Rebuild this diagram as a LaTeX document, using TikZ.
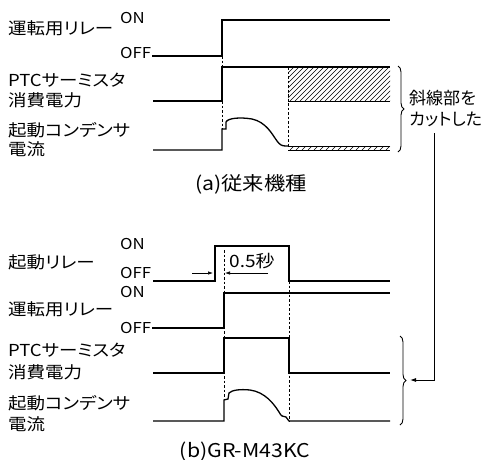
\documentclass[tikz,border=0pt]{standalone}
\usepackage{fontspec}
\setmainfont[RawFeature=+palt, FakeStretch=1.12]{Noto Sans CJK JP}
\newfontfamily\cutfont[RawFeature=+palt]{Noto Sans CJK JP}
\usetikzlibrary{arrows.meta,decorations.pathreplacing}
\begin{document}
\begin{tikzpicture}[x=1pt,y=-1pt,
 sig/.style={line width=1.3pt},
 dsh/.style={line width=0.8pt, dash pattern=on 2.5pt off 2pt},
 lab/.style={anchor=west, inner sep=0pt, font=\fontsize{16.5}{18}\selectfont},
 cutlab/.style={anchor=west, inner sep=0pt, font=\cutfont\fontsize{17}{19}\selectfont},
 lvl/.style={anchor=west, inner sep=0pt, font=\fontsize{15}{17}\selectfont},
 dimlab/.style={anchor=west, inner sep=0pt, font=\fontsize{17}{19}\selectfont},
 capt/.style={inner sep=0pt, font=\fontsize{19}{22}\selectfont},
 hatch/.style={line width=0.6pt},
 dim/.style={line width=0.7pt, -{Latex[length=5pt,width=3.5pt]}},
 brc/.style={decorate, decoration={brace, amplitude=6pt}, line width=0.9pt}]
\useasboundingbox (0,0) rectangle (483,459);

% ---------- (a) ----------
\node[lab] (a1) at (8,28) {運転用リレー};
\node[lvl] (a1on) at (120,18) {ON};
\node[lvl] (a1off) at (120,53) {OFF};
\node[lab] (a2a) at (8,80) {PTCサーミスタ};
\node[lab] (a2b) at (8,100) {消費電力};
\node[lab] (a3a) at (8,130) {起動コンデンサ};
\node[lab] (a3b) at (8,149) {電流};
\node[capt] (capa) at (251,184) {(a)従来機種};

\begin{scope}
\clip (288,67) rectangle (390,101);
\foreach \x in {250,255,...,390} \draw[hatch] (\x,101) -- (\x+34,67);
\end{scope}
\begin{scope}
\clip (288,146) rectangle (390,150);
\foreach \x in {284,290,...,390} \draw[hatch] (\x,150) -- (\x+4,146);
\end{scope}
\draw[hatch] (288,146) -- (390,146);

\draw[dsh] (222,56) -- (222,67);
\draw[dsh] (222,101) -- (222,129);
\draw[dsh] (288,67) -- (288,146);

\draw[sig] (152,56) -- (222,56) -- (222,20) -- (390,20);
\draw[sig] (153,101) -- (222,101) -- (222,67) -- (390,67);
\draw[line width=1pt] (288,101) -- (390,101);
\draw[sig] (153,150) -- (222,150) -- (222,129) -- (226,129) -- (226,122)
  .. controls (228,118) and (240,117) .. (252,119)
  .. controls (266,122) and (272,134) .. (277,141)
  .. controls (280,145) and (282,146) .. (286,146) -- (288,146);
\draw[line width=1pt] (288,150) -- (390,150);

\draw[brc] (398,66) -- (398,152);
\node[cutlab] (cut1) at (409,98) {斜線部を};
\node[cutlab] (cut2) at (409,119) {カットした};

% ---------- (b) ----------
\node[lab] (b1) at (8,262) {起動リレー};
\node[lvl] (b1on) at (120,244) {ON};
\node[lvl] (b1off) at (120,273) {OFF};
\node[lvl] (b2on) at (120,292) {ON};
\node[lab] (b2) at (8,309) {運転用リレー};
\node[lvl] (b2off) at (120,328) {OFF};
\node[lab] (b3a) at (8,350) {PTCサーミスタ};
\node[lab] (b3b) at (8,372) {消費電力};
\node[lab] (b4a) at (8,403) {起動コンデンサ};
\node[lab] (b4b) at (8,424) {電流};
\node[capt] (capb) at (245,452) {(b)GR-M43KC};

\draw[dsh] (224,250) -- (224,400);
\draw[dsh] (289,281) -- (289,421);

\draw[sig] (153,281) -- (215,281) -- (215,246) -- (289,246) -- (289,281) -- (390,281);
\draw[sig] (152,328) -- (224,328) -- (224,293) -- (390,293);
\draw[sig] (153,373) -- (224,373) -- (224,338) -- (289,338) -- (289,373) -- (390,373);
\draw[sig] (153,421) -- (224,421) -- (224,400) -- (228,399) -- (229,393)
  .. controls (232,390) and (240,389) .. (250,390)
  .. controls (265,392) and (274,404) .. (279,412)
  .. controls (281,416) and (283,417) .. (286,417) -- (289,421) -- (390,421);

\coordinate (d1s) at (192,273);
\coordinate (d1e) at (213,273);
\coordinate (d2s) at (268,273);
\coordinate (d2e) at (225,273);
\draw[dim] (d1s) -- (d1e);
\draw[dim] (d2s) -- (d2e);
\node[dimlab] (half) at (229,261) {0.5秒};

\draw[brc] (400,336) -- (400,425);

\coordinate (ar1) at (434,133);
\coordinate (ar2) at (410,380);
\draw[line width=0.9pt, -{Latex[length=6pt,width=4pt]}] (ar1) |- (ar2);
\end{tikzpicture}
\end{document}
